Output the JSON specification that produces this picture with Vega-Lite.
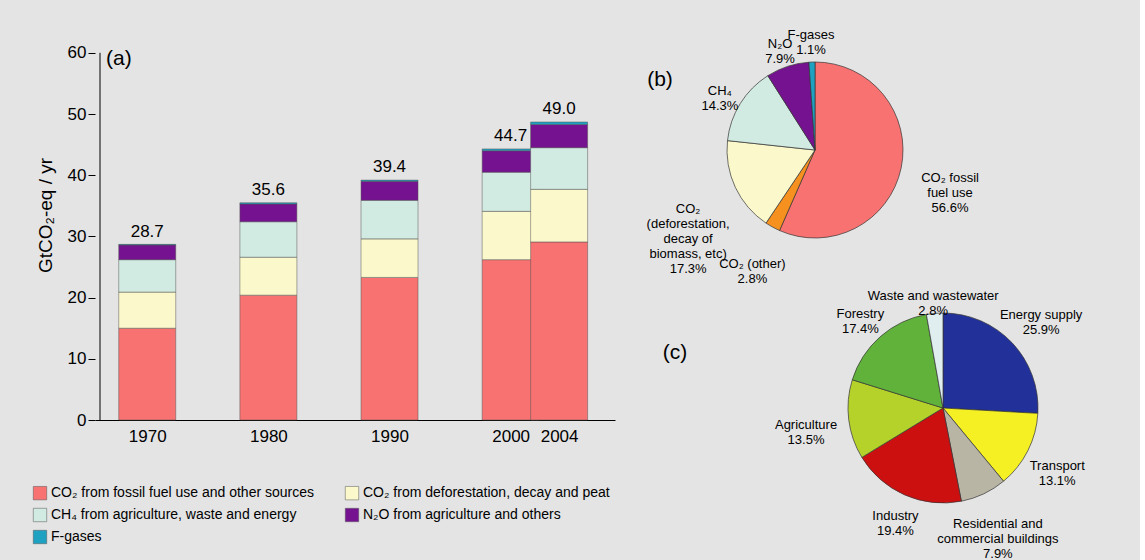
{
  "$schema": "https://vega.github.io/schema/vega-lite/v6.json",
  "background": "#e4e4e4",
  "padding": {"left": 33, "top": 10, "right": 5, "bottom": 5},
  "bounds": "flush",
  "config": {
    "font": "Liberation Sans",
    "view": {"stroke": null},
    "concat": {"spacing": 20}
  },
  "resolve": {"scale": {"color": "independent", "theta": "independent", "radius": "independent"}},
  "datasets": {
    "bars": [
      {"year": 1970, "gas": "CO₂ from fossil fuel use and other sources", "k": 1, "v": 15.0},
      {"year": 1970, "gas": "CO₂ from deforestation, decay and peat", "k": 2, "v": 5.9},
      {"year": 1970, "gas": "CH₄ from agriculture, waste and energy", "k": 3, "v": 5.3},
      {"year": 1970, "gas": "N₂O from agriculture and others", "k": 4, "v": 2.4},
      {"year": 1970, "gas": "F-gases", "k": 5, "v": 0.1},
      {"year": 1980, "gas": "CO₂ from fossil fuel use and other sources", "k": 1, "v": 20.4},
      {"year": 1980, "gas": "CO₂ from deforestation, decay and peat", "k": 2, "v": 6.2},
      {"year": 1980, "gas": "CH₄ from agriculture, waste and energy", "k": 3, "v": 5.8},
      {"year": 1980, "gas": "N₂O from agriculture and others", "k": 4, "v": 2.9},
      {"year": 1980, "gas": "F-gases", "k": 5, "v": 0.2},
      {"year": 1990, "gas": "CO₂ from fossil fuel use and other sources", "k": 1, "v": 23.3},
      {"year": 1990, "gas": "CO₂ from deforestation, decay and peat", "k": 2, "v": 6.3},
      {"year": 1990, "gas": "CH₄ from agriculture, waste and energy", "k": 3, "v": 6.3},
      {"year": 1990, "gas": "N₂O from agriculture and others", "k": 4, "v": 3.1},
      {"year": 1990, "gas": "F-gases", "k": 5, "v": 0.2},
      {"year": 2000, "gas": "CO₂ from fossil fuel use and other sources", "k": 1, "v": 26.2},
      {"year": 2000, "gas": "CO₂ from deforestation, decay and peat", "k": 2, "v": 7.9},
      {"year": 2000, "gas": "CH₄ from agriculture, waste and energy", "k": 3, "v": 6.4},
      {"year": 2000, "gas": "N₂O from agriculture and others", "k": 4, "v": 3.5},
      {"year": 2000, "gas": "F-gases", "k": 5, "v": 0.3},
      {"year": 2004, "gas": "CO₂ from fossil fuel use and other sources", "k": 1, "v": 29.1},
      {"year": 2004, "gas": "CO₂ from deforestation, decay and peat", "k": 2, "v": 8.6},
      {"year": 2004, "gas": "CH₄ from agriculture, waste and energy", "k": 3, "v": 6.8},
      {"year": 2004, "gas": "N₂O from agriculture and others", "k": 4, "v": 3.8},
      {"year": 2004, "gas": "F-gases", "k": 5, "v": 0.4}
    ],
    "totals": [
      {"year": 1970, "top": 28.6, "label": "28.7"},
      {"year": 1980, "top": 35.5, "label": "35.6"},
      {"year": 1990, "top": 39.2, "label": "39.4"},
      {"year": 2000, "top": 44.3, "label": "44.7"},
      {"year": 2004, "top": 48.7, "label": "49.0"}
    ],
    "pieb": [
      {"k": 1, "name": "CO₂ fossil\nfuel use\n56.6%", "p": 56.6, "r": 138},
      {"k": 2, "name": "CO₂ (other)\n2.8%", "p": 2.8, "r": 130},
      {"k": 3, "name": "CO₂\n(deforestation,\ndecay of\nbiomass, etc)\n17.3%", "p": 17.3, "r": 140},
      {"k": 4, "name": "CH₄\n14.3%", "p": 14.3, "r": 112},
      {"k": 5, "name": "N₂O\n7.9%", "p": 7.9, "r": 112},
      {"k": 6, "name": "F-gases\n1.1%", "p": 1.1, "r": 115}
    ],
    "piec": [
      {"k": 1, "name": "Energy supply\n25.9%", "p": 25.9, "r": 135},
      {"k": 2, "name": "Transport\n13.1%", "p": 13.1, "r": 128},
      {"k": 3, "name": "Residential and\ncommercial buildings\n7.9%", "p": 7.9, "r": 128},
      {"k": 4, "name": "Industry\n19.4%", "p": 19.4, "r": 118},
      {"k": 5, "name": "Agriculture\n13.5%", "p": 13.5, "r": 138},
      {"k": 6, "name": "Forestry\n17.4%", "p": 17.4, "r": 125},
      {"k": 7, "name": "Waste and wastewater\n2.8%", "p": 2.8, "r": 112}
    ]
  },
  "hconcat": [
    {
      "width": 520,
      "height": 410,
      "layer": [
        {
          "data": {"name": "bars"},
          "mark": {"type": "bar", "width": 57, "stroke": "#555", "strokeWidth": 0.5},
          "encoding": {
            "x": {"field": "year", "type": "quantitative", "scale": {"domain": [1966.1, 2008.2], "nice": false, "zero": false},
              "axis": {"values": [1970, 1980, 1990, 2000, 2004], "format": "d", "title": null, "ticks": false, "grid": false, "labelFontSize": 17, "labelColor": "#000", "domainColor": "#000", "labelPadding": 8}},
            "y": {"field": "v", "type": "quantitative", "aggregate": "sum", "stack": "zero", "scale": {"domain": [0, 67], "nice": false},
              "axis": {"values": [0, 10, 20, 30, 40, 50, 60], "title": "GtCO₂-eq / yr", "titleFontSize": 19, "titleFontWeight": "normal", "titleColor": "#000", "grid": false, "domain": false, "labelFontSize": 17, "labelColor": "#000", "tickColor": "#000", "tickSize": 7, "titlePadding": 12}},
            "color": {"field": "gas", "type": "nominal",
              "scale": {"domain": ["CO₂ from fossil fuel use and other sources", "CO₂ from deforestation, decay and peat", "CH₄ from agriculture, waste and energy", "N₂O from agriculture and others", "F-gases"],
                "range": ["#f87272", "#fbf9cb", "#d2ebe2", "#74128f", "#1fa2c2"]},
              "legend": {"title": null, "orient": "none", "legendX": -62, "legendY": 476, "direction": "horizontal", "columns": 2, "symbolType": "square", "symbolSize": 180, "symbolStrokeColor": "#555", "symbolStrokeWidth": 0.5, "labelFontSize": 14, "labelColor": "#000", "labelLimit": 320, "columnPadding": 30, "rowPadding": 6}},
            "order": {"field": "k", "type": "quantitative"}
          }
        },
        {
          "data": {"values": [{"a": 0, "b": 60}]},
          "mark": {"type": "rule", "color": "#000"},
          "encoding": {"x": {"datum": 1966.1, "type": "quantitative"}, "y": {"field": "a", "type": "quantitative"}, "y2": {"field": "b"}}
        },
        {
          "data": {"name": "totals"},
          "mark": {"type": "text", "fontSize": 17, "dy": -13},
          "encoding": {"x": {"field": "year", "type": "quantitative"}, "y": {"field": "top", "type": "quantitative"}, "text": {"field": "label"}}
        },
        {
          "data": {"values": [{"t": "(a)"}]},
          "mark": {"type": "text", "fontSize": 21, "align": "left"},
          "encoding": {"x": {"datum": 1966.6, "type": "quantitative"}, "y": {"datum": 59, "type": "quantitative"}, "text": {"field": "t"}}
        }
      ]
    },
    {
      "spacing": 0,
      "resolve": {"scale": {"color": "independent", "theta": "independent", "radius": "independent"}},
      "vconcat": [
        {
          "width": 500,
          "height": 280,
          "data": {"name": "pieb"},
          "layer": [
            {
              "mark": {"type": "arc", "outerRadius": 88, "x": 180, "y": 140, "stroke": "#333", "strokeWidth": 0.7},
              "encoding": {
                "theta": {"field": "p", "type": "quantitative", "stack": true},
                "order": {"field": "k", "type": "quantitative"},
                "color": {"field": "k", "type": "ordinal", "legend": null,
                "scale": {"domain": [1, 2, 3, 4, 5, 6], "range": ["#f87272", "#f6901e", "#fbf9cb", "#d2ebe2", "#74128f", "#1fa2c2"]}}}
            },
            {
              "transform": [
                {"window": [{"op": "sum", "field": "p", "as": "cum"}], "sort": [{"field": "k"}]},
                {"calculate": "datum.cum - datum.p / 2", "as": "mid"}
              ],
              "mark": {"type": "text", "x": 180, "y": 140, "fontSize": 13, "lineBreak": "\n"},
              "encoding": {
                "theta": {"field": "mid", "type": "quantitative", "stack": null},
                "text": {"field": "name"},
                "radius": {"field": "r", "type": "quantitative", "scale": {"type": "linear", "domain": [0, 200], "range": [0, 200], "zero": true, "nice": false}}}
            },
            {
              "data": {"values": [{"t": "(b)"}]},
              "mark": {"type": "text", "fontSize": 21, "x": 25, "y": 70},
              "encoding": {"text": {"field": "t"}}
            }
          ]
        },
        {
          "width": 500,
          "height": 260,
          "data": {"name": "piec"},
          "layer": [
            {
              "mark": {"type": "arc", "outerRadius": 95, "x": 308, "y": 70, "stroke": "#333", "strokeWidth": 0.7},
              "encoding": {
                "theta": {"field": "p", "type": "quantitative", "stack": true},
                "order": {"field": "k", "type": "quantitative"},
                "color": {"field": "k", "type": "ordinal", "legend": null,
                "scale": {"domain": [1, 2, 3, 4, 5, 6, 7], "range": ["#22319a", "#f4f023", "#b9b5a5", "#cc1010", "#b5d22a", "#60b23a", "#e0eef0"]}}}
            },
            {
              "transform": [
                {"window": [{"op": "sum", "field": "p", "as": "cum"}], "sort": [{"field": "k"}]},
                {"calculate": "datum.cum - datum.p / 2", "as": "mid"}
              ],
              "mark": {"type": "text", "x": 308, "y": 70, "fontSize": 13, "lineBreak": "\n"},
              "encoding": {
                "theta": {"field": "mid", "type": "quantitative", "stack": null},
                "text": {"field": "name"},
                "radius": {"field": "r", "type": "quantitative", "scale": {"type": "linear", "domain": [0, 200], "range": [0, 200], "zero": true, "nice": false}}}
            },
            {
              "data": {"values": [{"t": "(c)"}]},
              "mark": {"type": "text", "fontSize": 21, "x": 40, "y": 15},
              "encoding": {"text": {"field": "t"}}
            }
          ]
        }
      ]
    }
  ]
}
